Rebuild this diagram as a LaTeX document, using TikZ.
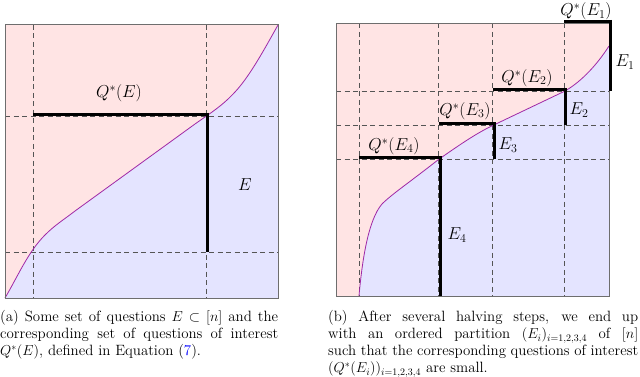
\documentclass[tikz,border=0pt]{standalone}
\usepackage{fontspec}
\definecolor{curvecol}{RGB}{160,40,165}
\definecolor{pinkfill}{RGB}{255,228,228}
\definecolor{bluefill}{RGB}{228,228,255}
\definecolor{gridcol}{RGB}{85,85,85}
\definecolor{framecol}{RGB}{110,110,110}
\definecolor{linkblue}{RGB}{0,0,255}
\hyphenpenalty=10000
\exhyphenpenalty=10000
\tolerance=9000
\begin{document}
\begin{tikzpicture}[x=1pt,y=-1pt,
  gridline/.style={gridcol,line width=0.8pt,dash pattern=on 5pt off 3.5pt},
  frameline/.style={framecol,line width=1pt},
  curveline/.style={curvecol,line width=0.8pt},
  thick bar/.style={black,line width=3.4pt},
  lab/.style={font=\fontsize{16.5}{20}\selectfont,inner sep=0pt},
  captxt/.style={font=\fontsize{14.9}{17}\selectfont,inner sep=0pt,anchor=north west,align=justify}]
\useasboundingbox (0,0) rectangle (640,377);

% ---------------- left panel ----------------
\def\leftcurve{(5,298) .. controls (18,276) and (28,252) .. (45,235)
  .. controls (55,225) and (62,221) .. (75,211)
  -- (195,124) .. controls (212,112) and (222,106) .. (235,92)
  .. controls (250,76) and (265,48) .. (278,25)}
\fill[pinkfill] (5,25) -- \leftcurve -- cycle;
\fill[bluefill] \leftcurve -- (278,298) -- cycle;
\draw[gridline] (33,25) -- (33,298);
\draw[gridline] (206,25) -- (206,298);
\draw[gridline] (5,116) -- (278,116);
\draw[gridline] (5,252) -- (278,252);
\draw[curveline] \leftcurve;
\draw[frameline] (5,25) rectangle (278,298);
\draw[thick bar] (33,114.3) -- (209.4,114.3);
\draw[thick bar] (207.7,112.6) -- (207.7,252);
\node[lab] (qe) at (119,93) {$Q^*(E)$};
\node[lab] (e) at (245,185) {$E$};

% ---------------- right panel ----------------
\def\rightcurve{(359,296) .. controls (362,262) and (368,220) .. (382,204)
  .. controls (392,194) and (410,182) .. (438.5,159.5)
  .. controls (458,146) and (475,134) .. (492.7,125.5)
  -- (564,91.5) .. controls (578,84) and (595,68) .. (609,46)}
\fill[pinkfill] (336,23.3) -- (336,296) -- \rightcurve -- (609,23.3) -- cycle;
\fill[bluefill] \rightcurve -- (609,296) -- cycle;
\foreach \xx in {359,438.5,492.7,564} \draw[gridline] (\xx,23.3) -- (\xx,296);
\foreach \yy in {91.5,125.5,159.5} \draw[gridline] (336,\yy) -- (609,\yy);
\draw[curveline] \rightcurve;
\draw[frameline] (336,23.3) rectangle (609,296);
% E4
\draw[thick bar] (359,157.8) -- (442,157.8);
\draw[thick bar] (440.2,156.1) -- (440.2,296);
% E3
\draw[thick bar] (438.5,123.8) -- (496.1,123.8);
\draw[thick bar] (494.4,122.1) -- (494.4,159.5);
% E2
\draw[thick bar] (492.7,89.8) -- (567.4,89.8);
\draw[thick bar] (565.7,88.1) -- (565.7,125.5);
% E1
\draw[thick bar] (564,21.6) -- (612.4,21.6);
\draw[thick bar] (610.7,19.9) -- (610.7,91.5);
\node[lab] (q1) at (586,11.5) {$Q^*(E_1)$};
\node[lab] (e1) at (625,62) {$E_1$};
\node[lab] (q2) at (527,78) {$Q^*(E_2)$};
\node[lab] (e2) at (579,110) {$E_2$};
\node[lab] (q3) at (465,111) {$Q^*(E_3)$};
\node[lab] (e3) at (508,145) {$E_3$};
\node[lab] (q4) at (394,146) {$Q^*(E_4)$};
\node[lab] (e4) at (457,235) {$E_4$};

% ---------------- captions ----------------
\node[captxt,text width=278pt] (capa) at (0,310.5)
  {(a) Some set of questions $E\subset[n]$ and the corresponding set of questions of interest $Q^*(E)$, defined in Equation (\textcolor{linkblue}{7}).};
\node[captxt,text width=310pt] (capb) at (328,310.5)
  {(b) After several halving steps, we end up with an ordered partition $(E_i)_{i=1,2,3,4}$ of $[n]$\linebreak such that the corresponding questions of interest $(Q^*(E_i))_{i=1,2,3,4}$ are small.};
\end{tikzpicture}
\end{document}
